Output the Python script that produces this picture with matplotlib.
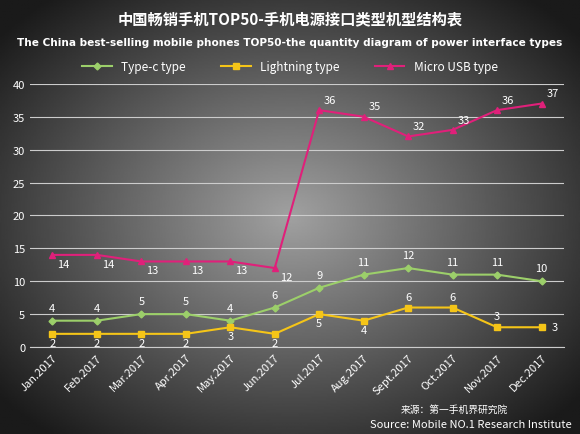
import numpy as np
import matplotlib
matplotlib.use("Agg")
import matplotlib.pyplot as plt

plt.rcParams['font.family'] = ['Noto Sans CJK SC', 'DejaVu Sans']

months = ["Jan.2017","Feb.2017","Mar.2017","Apr.2017","May.2017","Jun.2017",
          "Jul.2017","Aug.2017","Sept.2017","Oct.2017","Nov.2017","Dec.2017"]
typec = [4,4,5,5,4,6,9,11,12,11,11,10]
lightning = [2,2,2,2,3,2,5,4,6,6,3,3]
micro = [14,14,13,13,13,12,36,35,32,33,36,37]

fig = plt.figure(figsize=(5.8,4.35), dpi=100)
bg = fig.add_axes([0,0,1,1])
yy, xx = np.mgrid[-1:1:300j, -1:1:400j]
r = np.sqrt(xx**2 + yy**2)
bg.imshow(np.clip(1 - r/1.3, 0, 1), cmap='gray', vmin=-0.2, vmax=1.7, extent=[0,1,0,1], aspect='auto')
bg.axis('off')

fig.text(0.5, 0.955, "中国畅销手机TOP50-手机电源接口类型机型结构表", color='white',
         ha='center', va='center', fontsize=11, fontweight='bold')
fig.text(0.5, 0.9, "The China best-selling mobile phones TOP50-the quantity diagram of power interface types",
         color='white', ha='center', va='center', fontsize=7.6, fontweight='bold', family='DejaVu Sans')

ax = fig.add_axes([0.052, 0.2, 0.92, 0.605])
ax.set_facecolor('none')
x = np.arange(len(months))
l1, = ax.plot(x, typec, color='#9ccf6a', marker='D', ms=3.5, lw=1.5, label='Type-c type')
l2, = ax.plot(x, lightning, color='#f5c518', marker='s', ms=4, lw=1.5, label='Lightning type')
l3, = ax.plot(x, micro, color='#e0207a', marker='^', ms=5, lw=1.5, label='Micro USB type')
for i in range(len(x)):
    ax.text(x[i], typec[i]+1.2, str(typec[i]), color='white', ha='center', va='bottom', fontsize=8)
    if i in (8, 9, 10):
        ax.text(x[i], lightning[i]+0.9, str(lightning[i]), color='white', ha='center', va='bottom', fontsize=8)
    elif i == 11:
        ax.text(x[i]+0.3, lightning[i], str(lightning[i]), color='white', ha='center', va='center', fontsize=8)
    else:
        ax.text(x[i], lightning[i]-0.6, str(lightning[i]), color='white', ha='center', va='top', fontsize=8)
    off = -0.6 if i < 6 else 0.8
    ax.text(x[i]+0.25, micro[i]+off, str(micro[i]), color='white', ha='center',
            va='top' if i < 6 else 'bottom', fontsize=8)
ax.set_ylim(0, 40)
ax.set_yticks(range(0, 41, 5))
ax.set_xlim(-0.5, 11.5)
ax.set_xticks(x)
ax.set_xticklabels(months, rotation=45, ha='right', rotation_mode='anchor')
ax.tick_params(colors='white', labelsize=8, length=0)
ax.grid(axis='y', color='#cccccc', lw=0.8)
ax.set_axisbelow(True)
for s in ax.spines.values():
    s.set_visible(False)
ax.spines['bottom'].set_visible(True)
ax.spines['bottom'].set_color('#cccccc')

leg = fig.legend(handles=[l1,l2,l3], loc='center', bbox_to_anchor=(0.5, 0.845), ncol=3,
                 frameon=False, fontsize=8.5, labelcolor='white', columnspacing=3, handlelength=2.5)

fig.text(0.875, 0.052, "来源：第一手机界研究院", color='white', ha='right', fontsize=7)
fig.text(0.985, 0.015, "Source: Mobile NO.1 Research Institute", color='white', ha='right', fontsize=8)

fig.savefig("out.png", dpi=100)
